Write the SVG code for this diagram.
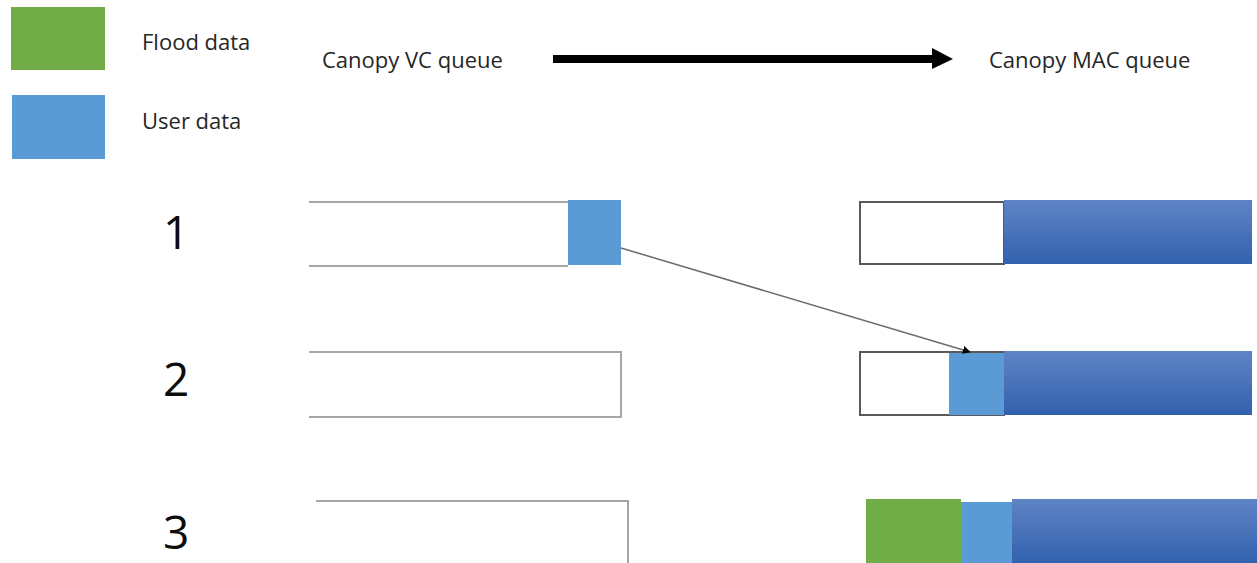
<svg xmlns="http://www.w3.org/2000/svg" width="1257" height="563" viewBox="0 0 1257 563">
<style>
.t{font-family:"Open Sans","Noto Sans",sans-serif;fill:#262626}
.lbl{font-size:22px}
.num{font-size:46px;fill:#0d0d0d}
.q{fill:none;stroke:#a6a6a6;stroke-width:2}
.box{fill:#fff;stroke:#595959;stroke-width:2}
.user{fill:#5b9bd5}
.flood{fill:#70ad47}
.mac{fill:url(#g)}
</style>
<defs>
<linearGradient id="g" x1="0" y1="0" x2="0" y2="1">
<stop offset="0" stop-color="#5f84c6"/>
<stop offset="1" stop-color="#3261ad"/>
</linearGradient>
<marker id="ah" viewBox="0 0 10 10" refX="9" refY="5" markerWidth="8" markerHeight="8" markerUnits="userSpaceOnUse" orient="auto">
<path d="M0,0 L10,5 L0,10 z" fill="#000"/>
</marker>
</defs>
<g id="legend">
<rect class="flood" x="11" y="7" width="94" height="63"/>
<rect class="user" x="12" y="95" width="93" height="64"/>
<text class="t lbl" x="142" y="50">Flood data</text>
<text class="t lbl" x="142" y="129">User data</text>
</g>
<g id="header">
<text class="t lbl" x="322" y="68">Canopy VC queue</text>
<text class="t lbl" x="989" y="68">Canopy MAC queue</text>
</g>
<g id="numbers">
<text class="t num" x="163" y="249">1</text>
<text class="t num" x="163" y="396">2</text>
<text class="t num" x="163" y="549">3</text>
</g>
<g id="vc1">
<path class="q" d="M309,202 H568 M309,266 H568"/>
<rect class="user" x="568" y="200" width="53" height="65"/>
</g>
<g id="vc2">
<path class="q" d="M309,352 H621 V417 H309"/>
</g>
<g id="vc3">
<path class="q" d="M316,501 H628 V563"/>
</g>
<g id="mac1">
<rect class="box" x="860" y="202" width="144" height="62"/>
<rect class="mac" x="1004" y="200" width="248" height="64"/>
</g>
<g id="mac2">
<rect class="box" x="860" y="352" width="144" height="63"/>
<rect class="user" x="949" y="353" width="55" height="62"/>
<rect class="mac" x="1004" y="351" width="248" height="64"/>
</g>
<g id="mac3">
<rect class="flood" x="866" y="499" width="95" height="64"/>
<rect class="user" x="961" y="502" width="51" height="61"/>
<rect class="mac" x="1012" y="499" width="245" height="64"/>
</g>
<g id="connectors">
<path d="M553,59 H934" stroke="#000" stroke-width="8" fill="none"/>
<path d="M932,48 L953,59 L932,69 z" fill="#000"/>
<line x1="621" y1="248" x2="970" y2="352" stroke="#6b6b6b" stroke-width="1.5" marker-end="url(#ah)"/>
</g>
</svg>
